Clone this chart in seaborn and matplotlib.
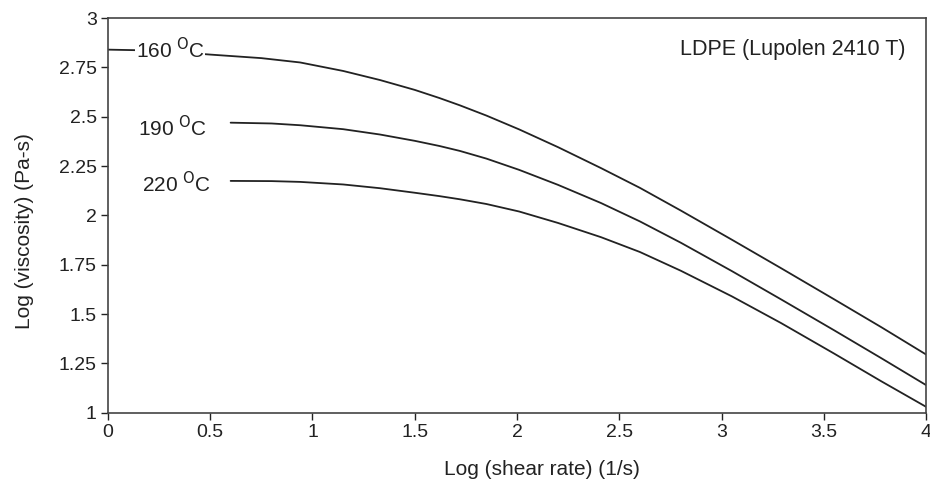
import numpy as np
import pandas as pd
import seaborn as sns
import matplotlib.pyplot as plt

# values (log shear rate vs log viscosity)
x_160 = [0.0, 0.25, 0.5, 0.75, 0.94, 1.15, 1.33, 1.5, 1.62, 1.72, 1.85, 2.01, 2.2, 2.41, 2.6, 2.8, 3.05, 3.29, 3.55, 3.78, 4.0]
y_160 = [2.84, 2.835, 2.815, 2.797, 2.775, 2.732, 2.686, 2.636, 2.595, 2.558, 2.506, 2.436, 2.346, 2.24, 2.14, 2.025, 1.877, 1.733, 1.575, 1.434, 1.295]

x_190 = [0.6, 0.8, 0.94, 1.15, 1.33, 1.5, 1.62, 1.72, 1.85, 2.01, 2.2, 2.41, 2.6, 2.8, 3.05, 3.29, 3.55, 3.78, 4.0]
y_190 = [2.47, 2.466, 2.457, 2.437, 2.41, 2.378, 2.352, 2.327, 2.288, 2.231, 2.155, 2.063, 1.97, 1.862, 1.718, 1.575, 1.418, 1.277, 1.14]

x_220 = [0.6, 0.8, 0.94, 1.15, 1.33, 1.5, 1.62, 1.72, 1.85, 2.01, 2.2, 2.41, 2.6, 2.8, 3.05, 3.29, 3.55, 3.78, 4.0]
y_220 = [2.175, 2.174, 2.17, 2.157, 2.138, 2.115, 2.098, 2.082, 2.058, 2.02, 1.962, 1.89, 1.815, 1.72, 1.59, 1.455, 1.30, 1.16, 1.03]

x_ticks = [0, 0.5, 1, 1.5, 2, 2.5, 3, 3.5, 4]
x_tick_labels = ["0", "0.5", "1", "1.5", "2", "2.5", "3", "3.5", "4"]
y_ticks = [1, 1.25, 1.5, 1.75, 2, 2.25, 2.5, 2.75, 3]
y_tick_labels = ["1", "1.25", "1.5", "1.75", "2", "2.25", "2.5", "2.75", "3"]

df = pd.concat([
    pd.DataFrame({"x": x_160, "y": y_160, "T": "160"}),
    pd.DataFrame({"x": x_190, "y": y_190, "T": "190"}),
    pd.DataFrame({"x": x_220, "y": y_220, "T": "220"}),
])

sns.set_style("ticks")
plt.rcParams["font.family"] = ["Liberation Sans", "DejaVu Sans"]
ink = "#222222"

fig = plt.figure(figsize=(9.3, 4.88), dpi=100)
ax = fig.add_axes([0.116, 0.154, 0.88, 0.809])

sns.lineplot(data=df, x="x", y="y", hue="T", palette=[ink] * 3,
             legend=False, linewidth=1.3, ax=ax, sort=False, estimator=None)

ax.set_xlim(0, 4)
ax.set_ylim(1, 3)
ax.set_xticks(x_ticks)
ax.set_xticklabels(x_tick_labels)
ax.set_yticks(y_ticks)
ax.set_yticklabels(y_tick_labels)
ax.tick_params(direction="out", length=5, width=1, colors=ink, labelsize=14, pad=3)
for s in ax.spines.values():
    s.set_visible(True)
    s.set_color("#444444")
    s.set_linewidth(1.2)

ax.set_xlabel("Log (shear rate) (1/s)", fontsize=15, color=ink)
ax.set_ylabel("Log (viscosity) (Pa-s)", fontsize=15, color=ink)
ax.xaxis.set_label_coords(0.53, -0.12)
ax.yaxis.set_label_coords(-0.09, 0.46)

# curve labels
ax.text(0.135, 2.84, r"160 $^{\mathrm{O}}$C", fontsize=15, color=ink, va="center", ha="left",
        bbox=dict(facecolor="white", edgecolor="none", pad=0.5))
ax.text(0.145, 2.445, r"190 $^{\mathrm{O}}$C", fontsize=15, color=ink, va="center", ha="left")
ax.text(0.165, 2.16, r"220 $^{\mathrm{O}}$C", fontsize=15, color=ink, va="center", ha="left")
ax.text(3.9, 2.84, "LDPE (Lupolen 2410 T)", fontsize=15.5, color=ink, va="center", ha="right")

fig.savefig("out.png", dpi=100)
